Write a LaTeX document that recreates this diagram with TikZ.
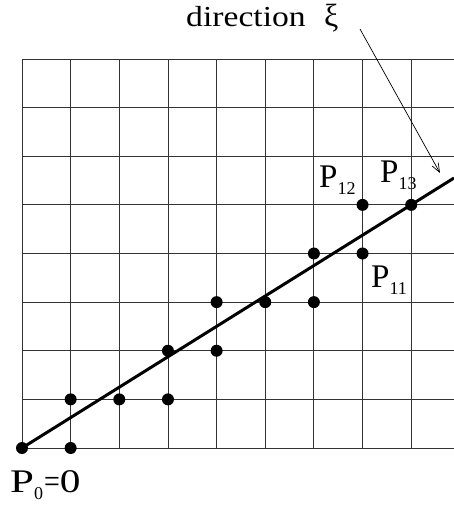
\documentclass[tikz,border=0pt]{standalone}
\usepackage{fontspec}
\setmainfont{Liberation Serif}
\usetikzlibrary{arrows.meta}
\newcommand{\subnum}[1]{\raisebox{-7.5pt}{\fontsize{18}{18}\selectfont #1}}
\begin{document}
\begin{tikzpicture}[x=1pt,y=-1pt,
  gridline/.style={draw=black!80,line width=0.9pt},
  dot/.style={circle,fill=black,inner sep=0pt,minimum size=12pt},
  lab/.style={anchor=base west,inner sep=0pt,font=\fontsize{33}{35}\selectfont},
  mainline/.style={line width=3pt},
  pointer/.style={line width=0.7pt,-{Straight Barb[length=9pt,width=7pt]}}]
\useasboundingbox (0,0) rectangle (454,506);
\foreach \i in {0,...,8}
  \draw[gridline] ({22+48.65*\i},59) -- ({22+48.65*\i},448);
\foreach \j in {0,...,8}
  \draw[gridline] (22,{448-48.625*\j}) -- (454,{448-48.625*\j});
\foreach \n/\a/\b in {0/0/0,1/1/0,2/1/1,3/2/1,4/3/1,5/3/2,6/4/2,7/4/3,8/5/3,9/6/3,10/6/4,11/7/4,12/7/5,13/8/5}
  \node[dot] (p\n) at ({22+48.65*\a},{448-48.625*\b}) {};
\coordinate (lineend) at (454,178);
\draw[mainline] (p0.center) -- (lineend);
\coordinate (dstart) at (360,29);
\coordinate (dend) at (440,173);
\draw[pointer] (dstart) -- (dend);
\node[lab,font=\fontsize{29}{31}\selectfont] (dir) at (186,27) {\scalebox{1.16}[1]{direction}};
\node[lab,font=\fontsize{32}{34}\selectfont] (xi) at (324,27) {ξ};
\node[lab] (l12) at (319,187) {P\subnum{12}};
\node[lab] (l11) at (371,287) {P\subnum{11}};
\node[lab] (l13) at (380,182) {P\subnum{13}};
\node[lab] (l0) at (10,492) {\scalebox{1.3}[1]{P}\subnum{0}\hspace{1pt}\scalebox{0.85}[1]{=}\scalebox{1.25}[1]{0}};
\end{tikzpicture}
\end{document}
